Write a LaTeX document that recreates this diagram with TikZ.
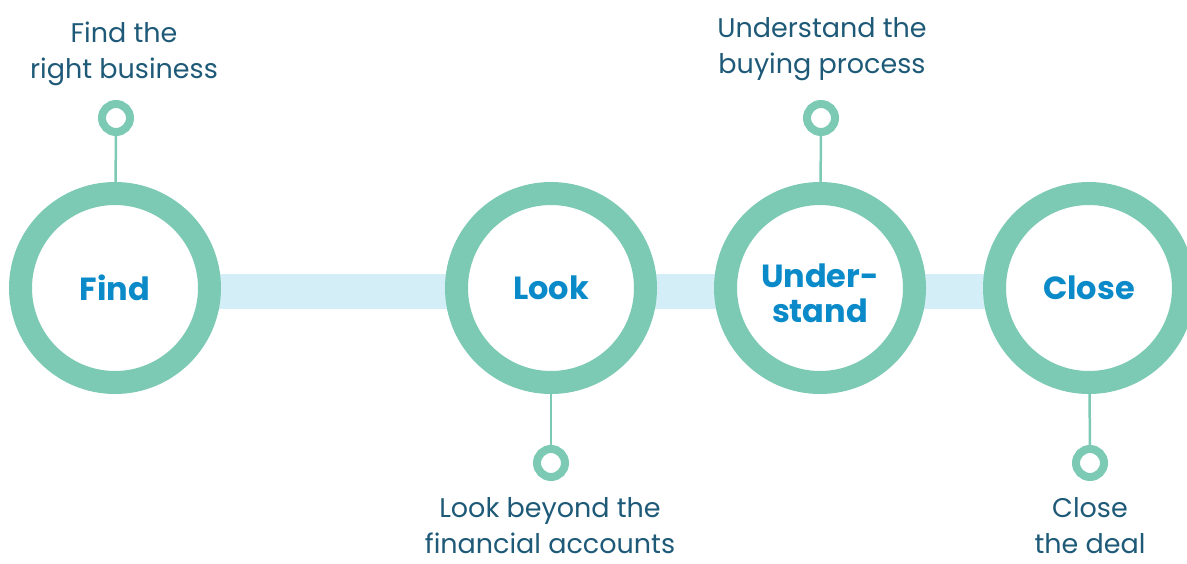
\documentclass[tikz,border=0pt]{standalone}
\usepackage{fontspec}
\setmainfont{Poppins}[BoldFont={* Bold}]
\usetikzlibrary{backgrounds}
\definecolor{ringgreen}{HTML}{7DCAB4}
\definecolor{barblue}{HTML}{D3EEF6}
\definecolor{stageblue}{HTML}{0A8AC8}
\definecolor{labelblue}{HTML}{1E5A78}
\tikzset{
  stage/.style={circle,draw=ringgreen,line width=23pt,fill=white,minimum size=189pt,
    inner sep=0pt,align=center,text=stageblue,font=\bfseries\fontsize{32}{35}\selectfont},
  dot/.style={circle,draw=ringgreen,line width=8pt,fill=white,minimum size=28pt,inner sep=0pt},
  stem/.style={draw=ringgreen,line width=2.5pt},
  bar/.style={draw=barblue,line width=35pt},
  label/.style={align=center,text=labelblue,inner sep=0pt,anchor=base,
    font=\fontsize{27}{36}\selectfont}
}
\begin{document}
\begin{tikzpicture}[x=1pt,y=-1pt]
\useasboundingbox (0,0) rectangle (1187,563);
% stages
\node[stage] (find) at (115,288) {Find};
\node[stage] (look) at (551,288) {Look};
\node[stage] (under) at (820,288) {\rule{0pt}{35pt}Under-\\stand};
\node[stage] (close) at (1089,288) {Close};
% small rings
\node[dot] (finddot) at (116,118) {};
\node[dot] (underdot) at (821,118) {};
\node[dot] (lookdot) at (551,463) {};
\node[dot] (closedot) at (1090,463) {};
\draw[stem] (finddot) -- (find);
\draw[stem] (underdot) -- (under);
\draw[stem] (lookdot) -- (look);
\draw[stem] (closedot) -- (close);
% labels (base = last line)
\node[label] (findlabel) at (124,78) {Find the\\right business};
\node[label] (underlabel) at (822,73) {Understand the\\buying process};
\node[label] (looklabel) at (550,553) {Look beyond the\\financial accounts};
\node[label] (closelabel) at (1090,553) {Close\\the deal};
% timeline bar
\begin{pgfonlayer}{background}
\draw[bar] ([yshift=-3pt]find.center) -- ([yshift=-3pt]close.center);
\end{pgfonlayer}
\end{tikzpicture}
\end{document}
